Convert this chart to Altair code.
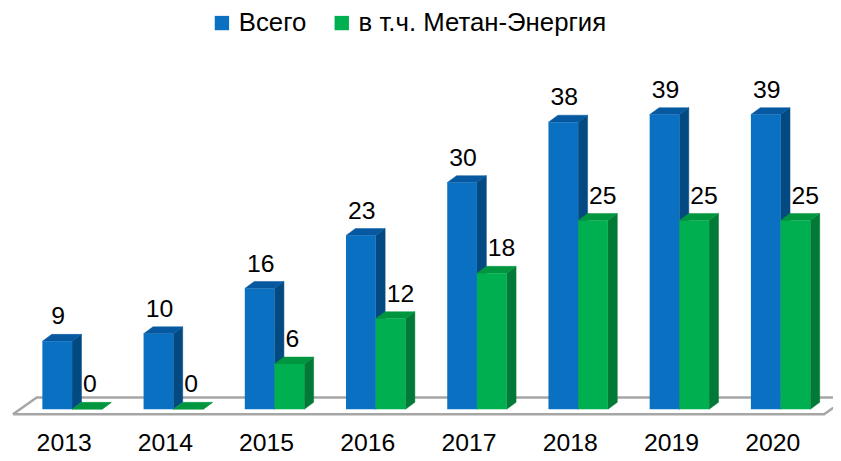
import altair as alt
import pandas as pd

# ---- data ----
years = ["2013", "2014", "2015", "2016", "2017", "2018", "2019", "2020"]
total = [9, 10, 16, 23, 30, 38, 39, 39]
metan = [0, 0, 6, 12, 18, 25, 25, 25]
series = ["Всего", "в т.ч. Метан-Энергия"]

# ---- styling / geometry constants ----
FRONT = ["#0A70C2", "#00B050"]
TOP = ["#0659A0", "#00963F"]
SIDE = ["#044A82", "#007A36"]
FONT = "Liberation Sans"

W, H = 833, 453
PX_SLOT = 102.2          # pixels per category slot
PX_UNIT = 7.63           # pixels per value unit
X0_PX = 49.7             # pixel of first slot centre
Y0_PX = 403              # pixel of value zero
BW = 30 / PX_SLOT        # bar width in slot units
DX = 9.5 / PX_SLOT       # 3D depth (x)
DY = 7 / PX_UNIT         # 3D depth (y)

U0 = -X0_PX / PX_SLOT
U1 = (W - X0_PX) / PX_SLOT
V1 = Y0_PX / PX_UNIT
V0 = (Y0_PX - H) / PX_UNIT

xs = alt.Scale(domain=[U0, U1], nice=False, zero=False)
ys = alt.Scale(domain=[V0, V1], nice=False, zero=False)

front_rows, side_rows, top_rows = [], [], []
for i, yr in enumerate(years):
    for s, vals in enumerate([total, metan]):
        v = vals[i]
        c = i + s * BW
        bid = f"{yr}-{s}"
        front_rows.append(dict(bar=bid, s=s, series=series[s], year=yr, value=v,
                               x=c - BW / 2, x2=c + BW / 2, y=0, y2=v, xc=c))
        side_rows.append(dict(bar=bid, s=s, x=c + BW / 2, lo=0, hi=v))
        side_rows.append(dict(bar=bid, s=s, x=c + BW / 2 + DX, lo=DY, hi=v + DY))
        top_rows.append(dict(bar=bid, s=s, y=v, xl=c - BW / 2, xr=c + BW / 2))
        top_rows.append(dict(bar=bid, s=s, y=v + DY, xl=c - BW / 2 + DX, xr=c + BW / 2 + DX))

front = pd.DataFrame(front_rows)
side = pd.DataFrame(side_rows)
top = pd.DataFrame(top_rows)

# floor (parallelogram under the bars)
f_front_l = U0 + 5 / PX_SLOT
f_front_r = len(years) - 1 + (824 - X0_PX - (len(years) - 1) * PX_SLOT) / PX_SLOT
f_depth_u = 24 / PX_SLOT
f_front_v = -5 / PX_UNIT
f_back_v = 12 / PX_UNIT
floor = pd.DataFrame([
    dict(o=0, u=f_front_l, v=f_front_v),
    dict(o=1, u=f_front_r, v=f_front_v),
    dict(o=2, u=f_front_r + f_depth_u, v=f_back_v),
    dict(o=3, u=f_front_l + f_depth_u, v=f_back_v),
    dict(o=4, u=f_front_l, v=f_front_v),
])

color = alt.Color("series:N",
                  scale=alt.Scale(domain=series, range=FRONT),
                  legend=alt.Legend(title=None, orient="none", legendX=203, legendY=0,
                                    direction="horizontal", symbolType="square",
                                    symbolSize=210, symbolStrokeWidth=0,
                                    labelFont=FONT, labelFontSize=26, labelColor="#000000",
                                    labelLimit=400, columnPadding=22, labelOffset=4,
                                    padding=0))

floor_layer = alt.Chart(floor).mark_line(color="#A6A6A6", strokeWidth=2.5).encode(
    x=alt.X("u:Q", scale=xs, axis=None),
    y=alt.Y("v:Q", scale=ys, axis=None),
    order="o:Q",
)

layers = [floor_layer]
for s in (0, 1):
    side_l = alt.Chart(side[side.s == s]).mark_area(
        color=SIDE[s], stroke=SIDE[s], strokeWidth=0.5).encode(
        x=alt.X("x:Q", scale=xs, axis=None),
        y=alt.Y("lo:Q", scale=ys, axis=None),
        y2="hi:Q",
        detail="bar:N",
    )
    top_l = alt.Chart(top[top.s == s]).mark_area(
        orient="horizontal", color=TOP[s], stroke=TOP[s], strokeWidth=0.5).encode(
        y=alt.Y("y:Q", scale=ys, axis=None),
        x=alt.X("xl:Q", scale=xs, axis=None),
        x2="xr:Q",
        detail="bar:N",
    )
    front_l = alt.Chart(front[front.s == s]).mark_rect().encode(
        x=alt.X("x:Q", scale=xs, axis=None),
        x2="x2:Q",
        y=alt.Y("y:Q", scale=ys, axis=None),
        y2="y2:Q",
        color=color,
    )
    layers += [side_l, top_l, front_l]

lab_blue = alt.Chart(front[front.s == 0]).mark_text(
    font=FONT, fontSize=25, color="#000000", align="center", baseline="alphabetic",
    dx=1, dy=-17).encode(
    x=alt.X("xc:Q", scale=xs, axis=None),
    y=alt.Y("value:Q", scale=ys, axis=None),
    text="value:Q",
)
lab_green = alt.Chart(front[front.s == 1]).mark_text(
    font=FONT, fontSize=25, color="#000000", align="left", baseline="alphabetic",
    dx=-4, dy=-17).encode(
    x=alt.X("xc:Q", scale=xs, axis=None),
    y=alt.Y("value:Q", scale=ys, axis=None),
    text="value:Q",
)

year_df = pd.DataFrame(dict(year=years, u=[i + 7 / PX_SLOT for i in range(len(years))]))
year_l = alt.Chart(year_df).mark_text(
    font=FONT, fontSize=25, color="#000000", align="center", baseline="middle").encode(
    x=alt.X("u:Q", scale=xs, axis=None),
    y=alt.datum(-34 / PX_UNIT, scale=ys),
    text="year:N",
)

chart = alt.layer(*layers, lab_blue, lab_green, year_l).properties(
    width=W, height=H, autosize=alt.AutoSizeParams(type="none"), padding=0,
    background="#FFFFFF",
).configure_view(strokeWidth=0)

chart.save("out.html", embed_options={"renderer": "svg", "actions": False})
